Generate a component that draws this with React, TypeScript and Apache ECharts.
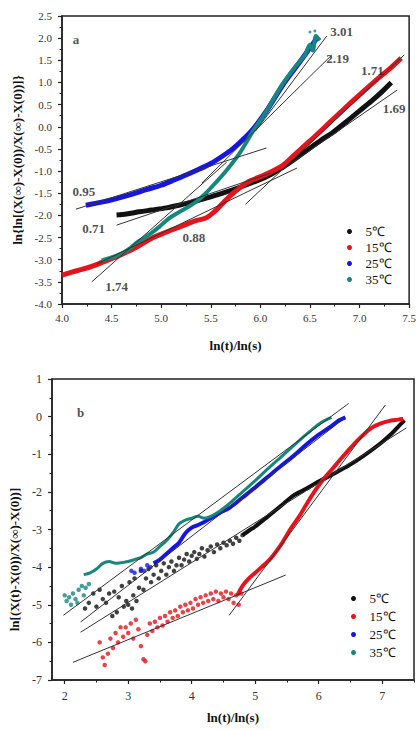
import React, { useEffect, useRef } from "react";
import * as echarts from "echarts";

const FONT = "'Liberation Serif','Times New Roman',serif";
const NAMES = ["5℃", "15℃", "25℃", "35℃"];
const COLORS = ["#111111", "#e3141c", "#1616e0", "#17877d"];

// ---------- panel a ----------
const aXTickLabels = [4.0, 4.5, 5.0, 5.5, 6.0, 6.5, 7.0, 7.5];
const a5 = [[4.55,-1.99],[4.65,-1.97],[4.78,-1.92],[4.9,-1.88],[5.05,-1.83],[5.18,-1.77],[5.35,-1.68],[5.5,-1.58],[5.62,-1.5],[5.8,-1.36],[6.06,-1.13],[6.25,-0.88],[6.39,-0.66],[6.5,-0.48],[6.6,-0.32],[6.73,-0.13],[6.87,0.12],[7.0,0.36],[7.12,0.58],[7.23,0.8],[7.32,1.0]];
const a15 = [[4.0,-3.35],[4.1,-3.28],[4.2,-3.22],[4.3,-3.15],[4.45,-3.02],[4.6,-2.88],[4.75,-2.72],[4.9,-2.52],[5.05,-2.38],[5.2,-2.25],[5.35,-2.12],[5.45,-2.06],[5.52,-1.95],[5.59,-1.8],[5.7,-1.55],[5.79,-1.38],[5.9,-1.22],[6.05,-1.08],[6.22,-0.88],[6.35,-0.62],[6.5,-0.32],[6.7,0.1],[6.9,0.52],[7.05,0.82],[7.17,1.06],[7.3,1.3],[7.42,1.55]];
const a25 = [[4.24,-1.77],[4.4,-1.7],[4.55,-1.62],[4.71,-1.52],[4.85,-1.42],[5.0,-1.32],[5.11,-1.22],[5.25,-1.09],[5.38,-0.96],[5.5,-0.83],[5.62,-0.66],[5.72,-0.5],[5.82,-0.3],[5.92,-0.07],[6.06,0.35],[6.22,0.92],[6.39,1.44],[6.5,1.78],[6.57,2.0]];
const a35 = [[4.4,-3.02],[4.5,-2.95],[4.6,-2.86],[4.68,-2.75],[4.75,-2.62],[4.82,-2.52],[4.9,-2.4],[4.98,-2.26],[5.05,-2.12],[5.11,-2.02],[5.2,-1.9],[5.28,-1.8],[5.36,-1.68],[5.45,-1.5],[5.55,-1.26],[5.66,-0.98],[5.79,-0.6],[5.92,-0.12],[6.06,0.35],[6.22,0.95],[6.35,1.35],[6.45,1.62],[6.5,1.85],[6.53,1.72],[6.56,2.05],[6.6,1.95]];
const a35Dots = [[6.5,2.14],[6.55,2.16]];
const aFitLines = [
  [[4.14,-1.86],[6.06,-0.48]],
  [[5.41,-1.27],[6.72,1.62]],
  [[4.30,-3.5],[5.66,-0.8]],
  [[5.95,-0.1],[6.67,2.05]],
  [[4.55,-2.22],[6.1,-1.05]],
  [[6.2,-1.0],[7.38,0.83]],
  [[4.35,-3.1],[6.37,-0.93]],
  [[5.85,-1.75],[7.45,1.62]],
];
const aSlopeLabels = [
  { name: "3.01", value: [6.82, 2.16] },
  { name: "2.19", value: [6.78, 1.53] },
  { name: "1.71", value: [7.13, 1.28] },
  { name: "1.69", value: [7.35, 0.42] },
  { name: "0.95", value: [4.22, -1.47] },
  { name: "0.71", value: [4.32, -2.29] },
  { name: "0.88", value: [5.33, -2.49] },
  { name: "1.74", value: [4.55, -3.6] },
  { name: "a", value: [4.14, 1.98] },
];

// ---------- panel b ----------
const bXTicks = [2, 3, 4, 5, 6, 7];
const bXMinor = [2.5, 3.5, 4.5, 5.5, 6.5, 7.5];
const b35Scatter = [[2.0,-4.75],[2.03,-4.9],[2.07,-4.8],[2.1,-5.0],[2.13,-4.7],[2.17,-4.85],[2.2,-4.95],[2.22,-4.6],[2.27,-4.5],[2.3,-4.75],[2.33,-4.55],[2.38,-4.45]];
const b35 = [[2.3,-4.2],[2.4,-4.15],[2.5,-4.05],[2.6,-3.9],[2.7,-3.85],[2.8,-3.9],[2.9,-3.88],[3.0,-3.85],[3.1,-3.8],[3.2,-3.75],[3.3,-3.65],[3.4,-3.6],[3.5,-3.45],[3.6,-3.3],[3.7,-3.1],[3.8,-2.85],[3.9,-2.75],[4.0,-2.7],[4.1,-2.65],[4.2,-2.7],[4.3,-2.65],[4.45,-2.5],[4.6,-2.3],[4.8,-2.0],[5.0,-1.7],[5.2,-1.38],[5.4,-1.08],[5.6,-0.78],[5.8,-0.48],[6.0,-0.2],[6.1,-0.1],[6.2,-0.02]];
const b25Scatter = [[3.05,-4.1],[3.1,-4.15],[3.2,-4.05],[3.25,-4.1],[3.3,-3.95],[3.35,-4.0]];
const b25 = [[3.4,-3.9],[3.5,-3.8],[3.6,-3.65],[3.7,-3.5],[3.8,-3.35],[3.9,-3.1],[4.0,-2.95],[4.1,-2.88],[4.2,-2.8],[4.3,-2.7],[4.45,-2.55],[4.6,-2.42],[4.8,-2.15],[5.0,-1.88],[5.2,-1.6],[5.4,-1.32],[5.6,-1.05],[5.8,-0.75],[6.0,-0.48],[6.2,-0.25],[6.3,-0.12],[6.42,-0.02]];
const b5Scatter = [[2.32,-5.1],[2.38,-4.95],[2.45,-4.7],[2.5,-5.05],[2.55,-4.6],[2.6,-4.85],[2.65,-4.95],[2.7,-4.7],[2.75,-5.3],[2.78,-4.65],[2.82,-5.2],[2.85,-4.8],[2.9,-4.5],[2.93,-5.05],[2.97,-4.9],[3.0,-5.0],[3.02,-4.4],[3.06,-5.1],[3.08,-4.75],[3.1,-4.3],[3.13,-4.9],[3.17,-4.55],[3.2,-4.1],[3.24,-4.6],[3.28,-4.3],[3.32,-4.05],[3.36,-4.4],[3.4,-4.2],[3.44,-3.95],[3.48,-4.3],[3.52,-4.1],[3.56,-3.9],[3.6,-4.2],[3.64,-4.0],[3.68,-3.85],[3.72,-4.1],[3.76,-3.95],[3.8,-3.75],[3.84,-3.95],[3.88,-3.8],[3.92,-3.65],[3.96,-3.85],[4.0,-3.7],[4.04,-3.6],[4.08,-3.78],[4.12,-3.65],[4.16,-3.5],[4.2,-3.72],[4.25,-3.55],[4.3,-3.45],[4.35,-3.6],[4.4,-3.4],[4.45,-3.5],[4.5,-3.35],[4.55,-3.42],[4.6,-3.3],[4.65,-3.38],[4.7,-3.22],[4.75,-3.3],[4.8,-3.15]];
const b5 = [[4.8,-3.15],[4.91,-3.02],[5.0,-2.92],[5.2,-2.65],[5.42,-2.35],[5.6,-2.1],[5.8,-1.92],[5.95,-1.77],[6.2,-1.55],[6.47,-1.3],[6.7,-1.05],[6.98,-0.7],[7.15,-0.45],[7.25,-0.27],[7.35,-0.1]];
const b15Scatter = [[2.55,-6.0],[2.6,-6.4],[2.63,-6.6],[2.68,-6.3],[2.72,-5.9],[2.76,-6.15],[2.8,-5.75],[2.84,-6.0],[2.88,-5.6],[2.92,-5.85],[2.96,-5.6],[3.0,-5.75],[3.04,-5.5],[3.08,-5.9],[3.12,-5.4],[3.16,-5.65],[3.2,-6.1],[3.24,-6.45],[3.27,-6.5],[3.3,-5.8],[3.34,-5.5],[3.38,-5.7],[3.42,-5.45],[3.46,-5.6],[3.5,-5.35],[3.54,-5.55],[3.58,-5.3],[3.62,-5.45],[3.66,-5.2],[3.7,-5.35],[3.74,-5.15],[3.78,-5.3],[3.82,-5.05],[3.86,-5.2],[3.9,-5.0],[3.94,-5.15],[3.98,-4.95],[4.02,-5.1],[4.06,-4.85],[4.1,-5.0],[4.14,-4.8],[4.18,-4.95],[4.22,-4.75],[4.26,-4.9],[4.3,-4.7],[4.34,-4.85],[4.38,-4.65],[4.42,-4.9],[4.46,-4.7],[4.5,-4.8],[4.54,-4.65],[4.58,-4.85],[4.62,-4.7],[4.66,-4.95],[4.7,-4.75],[4.74,-5.0],[4.78,-4.7]];
const b15 = [[4.72,-4.75],[4.8,-4.5],[4.9,-4.3],[5.0,-4.15],[5.1,-4.0],[5.2,-3.85],[5.3,-3.65],[5.42,-3.37],[5.55,-3.0],[5.69,-2.66],[5.8,-2.35],[5.95,-1.95],[6.08,-1.65],[6.2,-1.42],[6.35,-1.12],[6.47,-0.89],[6.6,-0.65],[6.73,-0.44],[6.85,-0.28],[6.98,-0.18],[7.1,-0.12],[7.25,-0.08],[7.33,-0.06]];
const bFitLines = [
  [[1.98,-5.28],[6.47,0.35]],
  [[2.25,-5.46],[6.4,-0.05]],
  [[2.25,-5.73],[7.38,-0.3]],
  [[2.13,-6.53],[5.48,-4.21]],
  [[4.59,-5.28],[7.05,0.31]],
];
const bLabels = [{ name: "b", value: [2.25, 0.12] }];

const axisLine = { show: true, onZero: false, lineStyle: { color: "#222", width: 1.5 } };
const axisTick = { show: true, inside: false, length: 4, lineStyle: { color: "#222", width: 1.2 } };
const minorTick = { show: true, splitNumber: 2, length: 2.5, lineStyle: { color: "#222", width: 1 } };
const labelStyle = (size: number) => ({ fontFamily: FONT, fontSize: size, color: "#333" });
const nameStyle = { fontFamily: FONT, fontSize: 13, fontWeight: "bold" as const, color: "#111" };

function curve(name: string, idx: number, data: number[][], ci: number, width: number) {
  return {
    type: "line", name, xAxisIndex: idx, yAxisIndex: idx, data, smooth: 0.3, symbol: "none",
    lineStyle: { width, color: COLORS[ci] }, itemStyle: { color: COLORS[ci] }, z: 2, silent: true,
  };
}
function dots(name: string, idx: number, data: number[][], ci: number, size: number) {
  return {
    type: "scatter", name, xAxisIndex: idx, yAxisIndex: idx, data, symbol: "circle", symbolSize: size,
    itemStyle: { color: COLORS[ci] }, z: 2, silent: true,
  };
}
function fit(idx: number, data: number[][]) {
  return {
    type: "line", xAxisIndex: idx, yAxisIndex: idx, data, symbol: "none",
    lineStyle: { width: 1, color: "#333" }, z: 5, silent: true,
  };
}
function labels(idx: number, data: any[]) {
  return {
    type: "scatter", xAxisIndex: idx, yAxisIndex: idx, data, symbolSize: 1,
    itemStyle: { color: "rgba(0,0,0,0)" }, z: 6, silent: true,
    label: { show: true, position: "inside", formatter: "{b}", fontFamily: FONT, fontSize: 13, fontWeight: "bold", color: "#222" },
  };
}

export default function App() {
  const ref = useRef<HTMLDivElement>(null);
  useEffect(() => {
    if (!ref.current) return;
    const chart = echarts.init(ref.current, undefined, { renderer: "svg" });
    const legendBase = {
      data: NAMES, orient: "vertical", icon: "circle", itemWidth: 22, itemHeight: 5,
      selectedMode: false, textStyle: { fontFamily: FONT, fontSize: 13, color: "#111" },
    };
    chart.setOption({
      animation: false,
      backgroundColor: "#fff",
      grid: [
        { left: 62, top: 16, width: 348, height: 288, show: true, borderColor: "#222", borderWidth: 1.5 },
        { left: 52, top: 379, width: 362, height: 301, show: true, borderColor: "#222", borderWidth: 1.5 },
      ],
      legend: [
        { ...legendBase, left: 342, top: 220, itemGap: 3 },
        { ...legendBase, left: 346, top: 587, itemGap: 5 },
      ],
      xAxis: [
        {
          gridIndex: 0, type: "value", min: 4, max: 7.5, interval: 0.5,
          axisLine, axisTick, minorTick, splitLine: { show: false },
          axisLabel: { ...labelStyle(11), margin: 8, formatter: (v: number) => v.toFixed(1), customValues: aXTickLabels },
          name: "ln(t)/ln(s)", nameLocation: "middle", nameGap: 35, nameTextStyle: nameStyle,
        },
        {
          gridIndex: 1, type: "value", min: 1.8, max: 7.5, position: "bottom",
          axisLine, axisTick: { ...axisTick, customValues: bXTicks }, splitLine: { show: false },
          axisLabel: { ...labelStyle(12), margin: 10, customValues: bXTicks },
          name: "ln(t)/ln(s)", nameLocation: "middle", nameGap: 31, nameTextStyle: nameStyle,
        },
        {
          // minor ticks of panel b, drawn along the bottom edge
          gridIndex: 1, type: "value", min: 1.8, max: 7.5, position: "top", offset: -301,
          axisLine: { show: false }, axisLabel: { show: false, customValues: bXMinor },
          axisTick: { show: true, inside: true, length: 2.5, lineStyle: { color: "#222", width: 1 }, customValues: bXMinor },
          splitLine: { show: false },
        },
      ],
      yAxis: [
        {
          gridIndex: 0, type: "value", min: -4, max: 2.5, interval: 0.5,
          axisLine, axisTick, minorTick, splitLine: { show: false },
          axisLabel: { ...labelStyle(11), margin: 10, formatter: (v: number) => v.toFixed(1) },
          name: "ln{ln[(X(∞)-X(0))/X(∞)-X(0))]}", nameLocation: "middle", nameGap: 36, nameTextStyle: nameStyle,
        },
        {
          gridIndex: 1, type: "value", min: -7, max: 1, interval: 1,
          axisLine, axisTick, minorTick, splitLine: { show: false },
          axisLabel: { ...labelStyle(12), margin: 10 },
          name: "ln[(X(t)-X(0))/X(∞)-X(0))]", nameLocation: "middle", nameGap: 28,
          nameTextStyle: { ...nameStyle, padding: [0, 60, 0, 0] },
        },
      ],
      series: [
        curve(NAMES[0], 0, a5, 0, 5),
        curve(NAMES[1], 0, a15, 1, 5),
        curve(NAMES[2], 0, a25, 2, 5),
        curve(NAMES[3], 0, a35, 3, 4),
        dots(NAMES[3], 0, a35Dots, 3, 3),
        ...aFitLines.map((d) => fit(0, d)),
        labels(0, aSlopeLabels),

        dots(NAMES[0], 1, b5Scatter, 0, 4.5),
        curve(NAMES[0], 1, b5, 0, 4),
        dots(NAMES[1], 1, b15Scatter, 1, 4.5),
        curve(NAMES[1], 1, b15, 1, 4),
        dots(NAMES[2], 1, b25Scatter, 2, 4.5),
        curve(NAMES[2], 1, b25, 2, 4),
        dots(NAMES[3], 1, b35Scatter, 3, 4.5),
        curve(NAMES[3], 1, b35, 3, 3),
        ...bFitLines.map((d) => fit(1, d)),
        labels(1, bLabels),
      ],
    });
    return () => chart.dispose();
  }, []);
  return (
    <div
      ref={ref}
      style={{ position: "fixed", left: 0, top: 0, width: 419, height: 730, background: "#fff" }}
    />
  );
}
